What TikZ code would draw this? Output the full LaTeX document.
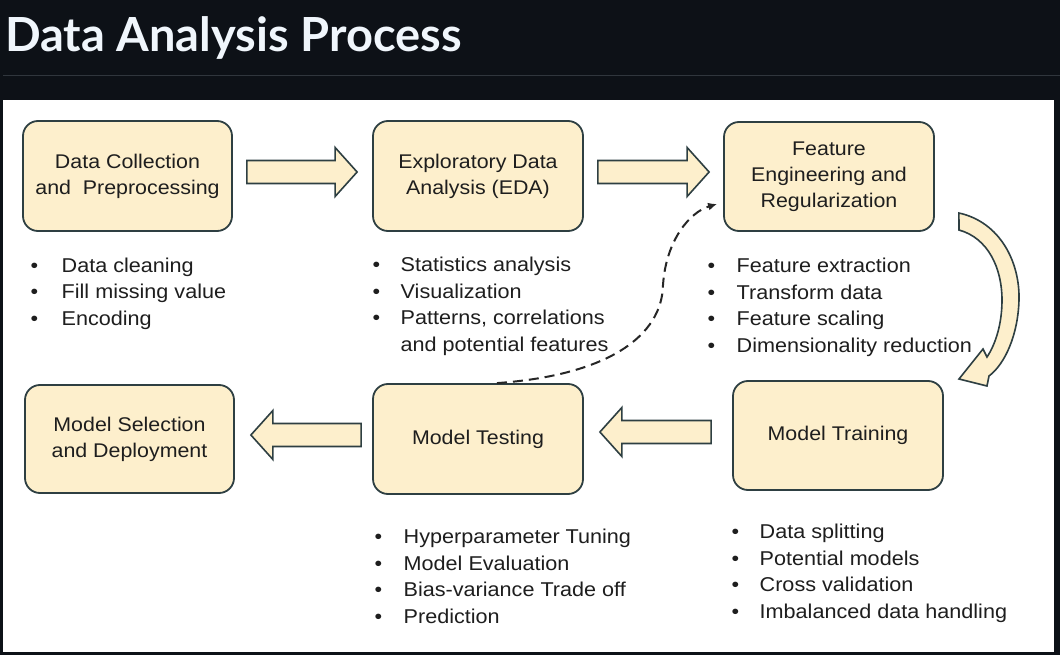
\documentclass[tikz,border=0pt]{standalone}
\usepackage{fontspec}
\setmainfont{Liberation Sans}[FakeStretch=1.08]
\newfontfamily\titlefont{Lato}
\usetikzlibrary{arrows.meta,calc}
\definecolor{hdr}{HTML}{0D1117}
\definecolor{sepc}{HTML}{30363D}
\definecolor{ttl}{HTML}{F0F6FC}
\definecolor{boxfill}{HTML}{FDEFCC}
\definecolor{boxline}{HTML}{2E3F42}
\definecolor{txt}{HTML}{1E1E1E}
\newcommand\bitem[2]{\makebox[#1][l]{\textbullet}#2}
\newcommand\barrow[2]{%
  \path[blk] let \p1=(#1), \p2=(#2), \n1={(\x2>\x1)?1:-1} in
    (\x1,\y1+11.5pt) -- (\x2-\n1*22pt,\y1+11.5pt) -- (\x2-\n1*22pt,\y1+24.5pt)
    -- (\x2,\y1) -- (\x2-\n1*22pt,\y1-24.5pt) -- (\x2-\n1*22pt,\y1-11.5pt)
    -- (\x1,\y1-11.5pt) -- cycle;}
\begin{document}
\begin{tikzpicture}[x=1pt,y=-1pt,
  stepbox/.style={draw=boxline, line width=1.8pt, fill=boxfill, rounded corners=15pt,
    minimum width=210pt, minimum height=110pt, align=center, text=txt,
    font=\fontsize{19.8}{26}\selectfont, inner sep=0pt},
  blk/.style={draw=boxline, line width=1.6pt, fill=boxfill, line join=miter},
  lst/.style={anchor=base west, align=left, inner sep=0pt, text=txt,
    font=\fontsize{20}{26.4}\selectfont},
  fb/.style={draw=black!85, line width=2pt, dash pattern=on 10pt off 6pt,
    -{Latex[length=9pt,width=8pt]}}
]
\fill[hdr] (0,0) rectangle (1060,655);
\useasboundingbox (0,0) rectangle (1060,655);
\draw[sepc, line width=1pt] (3,76) -- (1060,76);
\node[anchor=base west, inner sep=0pt, text=ttl,
  font=\titlefont\bfseries\fontsize{47}{50}\selectfont] (title) at (5,52) {Data Analysis Process};
\fill[white] (3,100) rectangle (1054,652);

% boxes
\node[stepbox, minimum width=209pt] (b1) at (127.5,176) {Data Collection\\and\ \ Preprocessing};
\node[stepbox] (b2) at (478,176) {Exploratory Data\\Analysis (EDA)};
\node[stepbox, minimum height=109pt] (b3) at (829,176.5) {Feature\\Engineering and\\Regularization};
\node[stepbox, minimum width=209pt, minimum height=108pt] (b4) at (129.5,439) {Model Selection\\and Deployment};
\node[stepbox] (b5) at (478,439) {Model Testing};
\node[stepbox, minimum height=109pt] (b6) at (838,435.5) {Model Training};

% block arrows
\barrow{$(b1.east)+(14,-4)$}{$(b2.west)+(-15,-4)$}
\barrow{$(b2.east)+(14,-4)$}{$(b3.west)+(-14,-4)$}
\barrow{$(b6.west)+(-21,-3.5)$}{$(b5.east)+(16,-7)$}
\barrow{$(b5.west)+(-11,-4)$}{$(b4.east)+(16,-4)$}

% curved block arrow from b3 to b6
\coordinate (c1) at ($(b3.east)+(24,36.5)$);
\draw[blk] (c1) .. controls (1000,222) and (1020,262) .. (1019,300)
  .. controls (1018,335) and (1005,364) .. (989,376) -- (987,386) -- (959,379)
  -- (983,349) -- (987,357) .. controls (995,345) and (1002,325) .. (1002,300)
  .. controls (1002,268) and (988,238) .. (959,230) -- cycle;

% dashed feedback
\coordinate (fs) at ($(b5.north)+(19,0)$);
\coordinate (fe) at ($(b3.west)+(-6,27.5)$);
\draw[fb] (fs) .. controls (610,375) and (662,335) .. (663,285)
  .. controls (666,240) and (690,212) .. (fe);

% lists (anchor = baseline of last line)
\node[lst] (l1) at (30.5,325) {\bitem{31pt}{Data cleaning}\\\bitem{31pt}{Fill missing value}\\\bitem{31pt}{Encoding}};
\node[lst] (l2) at (372.5,351) {\bitem{28pt}{Statistics analysis}\\\bitem{28pt}{Visualization}\\\bitem{28pt}{Patterns, correlations}\\\hspace*{28pt}and potential features};
\node[lst] (l3) at (707.5,352) {\bitem{29pt}{Feature extraction}\\\bitem{29pt}{Transform data}\\\bitem{29pt}{Feature scaling}\\\bitem{29pt}{Dimensionality reduction}};
\node[lst] (l4) at (374.5,623) {\bitem{29pt}{Hyperparameter Tuning}\\\bitem{29pt}{Model Evaluation}\\\bitem{29pt}{Bias-variance Trade off}\\\bitem{29pt}{Prediction}};
\node[lst] (l5) at (731.5,618) {\bitem{28pt}{Data splitting}\\\bitem{28pt}{Potential models}\\\bitem{28pt}{Cross validation}\\\bitem{28pt}{Imbalanced data handling}};
\end{tikzpicture}
\end{document}
